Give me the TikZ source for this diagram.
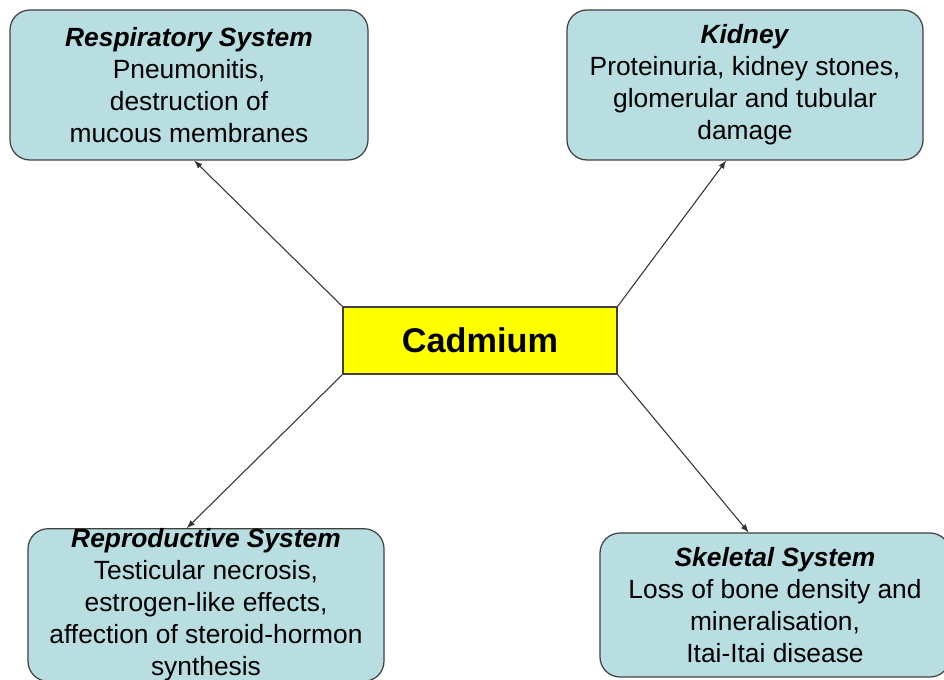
\documentclass[tikz,border=0pt]{standalone}
\usepackage{fontspec}
\setmainfont{Liberation Sans}
\usepackage{tikz}

\definecolor{organfill}{RGB}{184,222,226}
\definecolor{cadfill}{RGB}{255,255,0}

\begin{document}
\begin{tikzpicture}[
	organ/.style={draw=black!75, line width=0.7pt, fill=organfill, rounded corners=0.4cm, align=center, inner sep=0pt, font=\fontsize{15}{18.2}\selectfont},
	effect/.style={-latex, draw=black!80, line width=0.6pt}]
	\useasboundingbox (0,0) rectangle (18.88,13.6);
	\node[draw=black!75, line width=0.8pt, fill=cadfill, minimum width=5.48cm, minimum height=1.34cm, font=\fontsize{19.5}{23}\selectfont\bfseries] (cad) at (9.6,6.79) {Cadmium};
	
	\node[organ, minimum width=7.16cm, minimum height=3.0cm] (resp) at (3.78,11.9) {\textbf{\textit{Respiratory System}}\\Pneumonitis,\\destruction of\\mucous membranes};
	\node[organ, minimum width=7.12cm, minimum height=3.0cm] (kid) at (14.9,11.9) {\textbf{\textit{Kidney}}\\Proteinuria, kidney stones,\\glomerular and tubular\\damage};
	\node[organ, minimum width=7.12cm, minimum height=2.92cm] (repro) at (4.12,1.5) {\textbf{\textit{Reproductive System}}\\Testicular necrosis,\\estrogen-like effects,\\affection of steroid-hormon\\synthesis};
	\node[organ, minimum width=7.0cm, minimum height=2.88cm] (skel) at (15.5,1.5) {\textbf{\textit{Skeletal System}}\\Loss of bone density and\\mineralisation,\\Itai-Itai disease};
	
	\draw[effect] (cad.north west) -- (resp.274.6);
	\draw[effect] (cad.north east) -- (kid.256.5);
	\draw[effect] (cad.south west) -- (repro.104);
	\draw[effect] (cad.south east) -- (skel.110.5);
\end{tikzpicture}
\end{document}
